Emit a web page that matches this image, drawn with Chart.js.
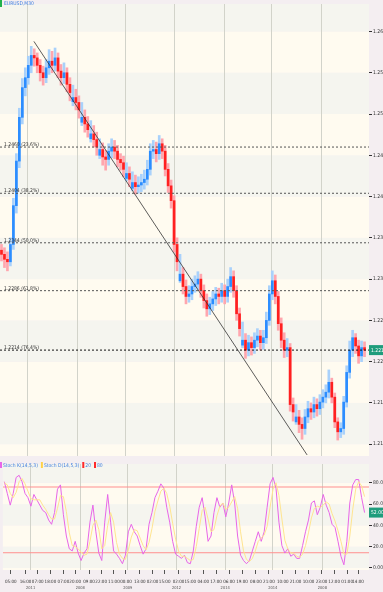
<!DOCTYPE html>
<html><head><meta charset="utf-8">
<script src="https://cdn.jsdelivr.net/npm/chart.js@4/dist/chart.umd.min.js"></script>
<style>
html,body{margin:0;padding:0;background:#f4eef1;overflow:hidden;width:383px;height:592px}
#w1{position:absolute;left:0;top:0;width:383px;height:460px}
#w2{position:absolute;left:0;top:460px;width:383px;height:132px}
</style></head><body>
<div id="w1"><canvas id="c1"></canvas></div>
<div id="w2"><canvas id="c2"></canvas></div>
<script>
// ---------- DATA ----------
const chartTitle = "EURUSD,M30";
const openP = [1.2335,1.2330,1.2324,1.2321,1.2342,1.2389,1.2443,1.2496,1.2532,1.2544,
1.2559,1.2571,1.2568,1.2559,1.2550,1.2544,1.2556,1.2564,1.2559,1.2568,
1.2552,1.2544,1.2550,1.2536,1.2515,1.2520,1.2514,1.2490,1.2496,1.2488,
1.2470,1.2476,1.2469,1.2450,1.2457,1.2448,1.2445,1.2455,1.2460,1.2455,
1.2445,1.2441,1.2422,1.2428,1.2410,1.2417,1.2412,1.2414,1.2417,1.2421,
1.2433,1.2455,1.2457,1.2452,1.2464,1.2455,1.2433,1.2413,1.2395,1.2342,
1.2298,1.2306,1.2291,1.2279,1.2282,1.2291,1.2294,1.2300,1.2286,1.2274,
1.2264,1.2270,1.2276,1.2282,1.2279,1.2286,1.2279,1.2291,1.2303,1.2286,
1.2258,1.2220,1.2226,1.2214,1.2223,1.2217,1.2226,1.2231,1.2223,1.2229,
1.2250,1.2282,1.2298,1.2279,1.2246,1.2226,1.2214,1.2217,1.2148,1.2127,
1.2133,1.2124,1.2119,1.2133,1.2143,1.2139,1.2148,1.2143,1.2151,1.2157,
1.2163,1.2175,1.2157,1.2127,1.2115,1.2119,1.2151,1.2187,1.2214,1.2229,
1.2219,1.2207,1.2217];
const highP = [1.2342,1.2338,1.2333,1.2350,1.2398,1.2452,1.2507,1.2543,1.2556,1.2570,
1.2582,1.2579,1.2574,1.2566,1.2558,1.2566,1.2578,1.2576,1.2580,1.2574,
1.2560,1.2562,1.2556,1.2544,1.2535,1.2530,1.2522,1.2514,1.2505,1.2497,
1.2492,1.2486,1.2478,1.2470,1.2465,1.2456,1.2464,1.2470,1.2468,1.2462,
1.2452,1.2449,1.2441,1.2436,1.2430,1.2426,1.2424,1.2427,1.2432,1.2444,
1.2464,1.2468,1.2466,1.2474,1.2470,1.2462,1.2440,1.2420,1.2401,1.2350,
1.2330,1.2314,1.2299,1.2292,1.2300,1.2304,1.2309,1.2306,1.2293,1.2282,
1.2278,1.2285,1.2290,1.2289,1.2295,1.2293,1.2300,1.2314,1.2310,1.2292,
1.2265,1.2248,1.2234,1.2232,1.2230,1.2235,1.2240,1.2238,1.2238,1.2260,
1.2292,1.2310,1.2305,1.2285,1.2253,1.2235,1.2228,1.2222,1.2156,1.2148,
1.2141,1.2132,1.2142,1.2152,1.2150,1.2157,1.2155,1.2160,1.2166,1.2172,
1.2190,1.2180,1.2162,1.2132,1.2126,1.2158,1.2195,1.2225,1.2238,1.2234,
1.2226,1.2225,1.2224];
const lowP = [1.2322,1.2314,1.2310,1.2316,1.2336,1.2380,1.2435,1.2488,1.2522,1.2536,
1.2550,1.2558,1.2550,1.2540,1.2535,1.2538,1.2548,1.2550,1.2552,1.2544,
1.2535,1.2537,1.2527,1.2516,1.2510,1.2505,1.2495,1.2486,1.2478,1.2472,
1.2466,1.2460,1.2450,1.2446,1.2438,1.2432,1.2438,1.2447,1.2446,1.2436,
1.2432,1.2424,1.2419,1.2412,1.2407,1.2403,1.2404,1.2406,1.2409,1.2414,
1.2426,1.2446,1.2442,1.2445,1.2446,1.2425,1.2405,1.2386,1.2333,1.2310,
1.2296,1.2282,1.2270,1.2272,1.2275,1.2284,1.2287,1.2278,1.2265,1.2255,
1.2257,1.2262,1.2268,1.2270,1.2272,1.2270,1.2272,1.2284,1.2278,1.2250,
1.2231,1.2217,1.2204,1.2207,1.2208,1.2210,1.2218,1.2214,1.2215,1.2222,
1.2244,1.2275,1.2270,1.2238,1.2217,1.2205,1.2206,1.2140,1.2128,1.2124,
1.2114,1.2106,1.2112,1.2126,1.2130,1.2132,1.2134,1.2136,1.2144,1.2150,
1.2156,1.2150,1.2120,1.2105,1.2108,1.2112,1.2145,1.2180,1.2206,1.2210,
1.2198,1.2200,1.2206];
const closeP = [1.2330,1.2324,1.2321,1.2342,1.2389,1.2443,1.2496,1.2532,1.2544,1.2559,
1.2571,1.2568,1.2559,1.2550,1.2544,1.2556,1.2564,1.2559,1.2568,1.2552,
1.2544,1.2550,1.2536,1.2526,1.2520,1.2514,1.2505,1.2496,1.2488,1.2481,
1.2476,1.2469,1.2460,1.2457,1.2448,1.2445,1.2455,1.2460,1.2455,1.2445,
1.2441,1.2433,1.2428,1.2421,1.2417,1.2412,1.2414,1.2417,1.2421,1.2433,
1.2455,1.2457,1.2452,1.2464,1.2455,1.2433,1.2413,1.2395,1.2342,1.2321,
1.2306,1.2291,1.2279,1.2282,1.2291,1.2294,1.2300,1.2286,1.2274,1.2264,
1.2270,1.2276,1.2282,1.2279,1.2286,1.2279,1.2291,1.2303,1.2286,1.2258,
1.2240,1.2226,1.2214,1.2223,1.2217,1.2226,1.2231,1.2223,1.2229,1.2250,
1.2282,1.2298,1.2279,1.2246,1.2226,1.2214,1.2217,1.2148,1.2139,1.2133,
1.2124,1.2119,1.2133,1.2143,1.2139,1.2148,1.2143,1.2151,1.2157,1.2163,
1.2175,1.2157,1.2127,1.2115,1.2119,1.2151,1.2187,1.2214,1.2229,1.2219,
1.2207,1.2217,1.2214];
const stochK = [81,70,59,70,85,87,81,70,66,58,69,64,59,54,52,45,41,52,74,78,
50,30,18,16,25,14,7,14,18,43,59,34,14,7,43,69,43,16,13,9,
4,12,34,41,34,30,21,13,18,41,52,66,72,79,75,57,43,25,13,11,
9,12,5,4,16,39,57,66,48,25,30,52,66,57,61,48,61,78,61,30,
12,7,4,7,16,25,34,25,34,57,79,85,75,43,21,14,18,11,13,9,
9,21,34,45,61,63,50,57,69,59,52,41,38,25,11,3,25,61,78,83,
83,66,52];
const stochD = [80,78,70,66,71,81,84,79,72,65,64,64,64,59,55,50,46,46,56,68,
67,53,33,21,20,18,15,12,13,25,40,45,36,18,21,40,52,43,24,13,
9,8,17,29,36,35,28,21,17,24,37,53,63,72,75,70,58,42,27,16,
11,11,9,7,8,20,37,54,57,46,34,36,49,58,61,55,57,62,67,56,
34,16,8,6,9,16,25,28,31,39,57,74,80,68,46,26,18,14,14,11,
10,13,21,33,47,56,58,57,59,62,60,51,44,35,25,13,13,30,55,74,
81,77,67];
const priceTicks = [1.2100,1.2150,1.2200,1.2250,1.2300,1.2350,1.2400,1.2450,1.2500,1.2550,1.2600];
const stochTicks = [0,20,40,60,80];
const stochLevels = [76,14.3];
const fibLevels = [1.2460,1.2404,1.2344,1.2286,1.2214];
const fibPct = ["23.6%","38.2%","50.0%","61.8%","76.4%"];
const trendStart = {i:10.9, p:1.2588};
const trendEnd = {i:102.7, p:1.2087};
const timeLabels = ["05:00","16:00","07:00","18:00","07:00","20:00","09:00","22:00","11:00","00:00",
"13:00","02:00","15:00","02:00","15:00","04:00","17:00","06:00","19:00",
"08:00","21:00","10:00","21:00","10:00","23:00","12:00","01:00","14:00"];
const timeLabelAt = [2.2,7.2,11.3,15.6,20.0,24.0,28.7,32.8,37.1,41.2,
45.9,50.2,54.3,59.0,63.0,67.4,71.7,76.1,80.5,
85.2,89.6,94.3,98.6,103.0,107.4,111.7,116.1,119.8];
const daySeparators = [8.9,25.7,41.8,58.3,74.8,90.9,107.7];
const dayLabels = ["2011","2008","2009","2012","2014","2014","2008"];
const legendItems = [["Stoch K(14,5,3)","#e866e8"],["Stoch D(14,5,3)","#ffd24a"],["20","#ff2a2a"],["80","#ff2a2a"]];

// ---------- STYLE ----------
const X_MIN = -0.5, X_MAX = 123.5;
const FONT = '"Liberation Sans Narrow","DejaVu Sans Condensed","Liberation Sans",sans-serif';
const BAND_A = '#f5f5ef', BAND_B = '#fffbf0';
const UP = '#2c8dff', DN = '#ff2020', UPW = '#a9d1fb', DNW = '#ffa6ae';
const SEP = '#d2d3ca';

function bandPlugin(id){
  return {id, beforeDraw(chart){
    const {ctx, chartArea:a} = chart; const ys = chart.scales.y;
    const tv = ys.ticks.map(t=>t.value).sort((p,q)=>p-q);
    const edges = [ys.min, ...tv, ys.max];
    ctx.save();
    for(let k=0;k<edges.length-1;k++){
      const y1 = ys.getPixelForValue(edges[k]), y2 = ys.getPixelForValue(edges[k+1]);
      ctx.fillStyle = ((k-1)%2===0) ? BAND_A : BAND_B;
      ctx.fillRect(a.left, Math.min(y1,y2), a.right-a.left, Math.abs(y2-y1));
    }
    ctx.restore();
  }};
}
function boxPlugin(id, getVal, fmt){
  return {id, afterDraw(chart){
    const {ctx, chartArea:a} = chart; const ys = chart.scales.y;
    const v = getVal(); const y = ys.getPixelForValue(v);
    ctx.save();
    ctx.fillStyle = '#1f9c7c';
    ctx.fillRect(a.right, y-5, chart.width-a.right, 10);
    ctx.fillStyle = '#ffffff'; ctx.font = '5px '+FONT; ctx.textBaseline='middle';
    ctx.fillText(fmt(v), a.right+2, y+0.5);
    ctx.restore();
  }};
}

const idx = closeP.map((_,i)=>i);

// ---------- MAIN PRICE CHART ----------
new Chart(document.getElementById('c1'), {
  type:'bar',
  data:{datasets:[
    {label:'wick', order:3, data: idx.map(i=>({x:i, y:[lowP[i],highP[i]]})),
     backgroundColor: idx.map(i=> closeP[i]>=openP[i]?UPW:DNW), barThickness:2, grouped:false, borderWidth:0},
    {label:'body', order:2, data: idx.map(i=>({x:i, y:[openP[i],closeP[i]]})),
     backgroundColor: idx.map(i=> closeP[i]>=openP[i]?UP:DN), barThickness:2, grouped:false, borderWidth:0, minBarLength:1},
    {type:'line', label:'trend', order:1, data:[{x:trendStart.i,y:trendStart.p},{x:trendEnd.i,y:trendEnd.p}],
     borderColor:'#333', borderWidth:0.8, pointRadius:0},
    ...fibLevels.map((v,k)=>({type:'line', label:'fib'+k, order:1,
      data:[{x:X_MIN,y:v},{x:X_MAX,y:v}], borderColor: k===fibLevels.length-1?'#111':'#555',
      borderWidth:1, borderDash:[2,2], pointRadius:0}))
  ]},
  options:{
    responsive:true, maintainAspectRatio:false, animation:false,
    layout:{padding:0},
    plugins:{legend:{display:false}, tooltip:{enabled:false}},
    scales:{
      x:{type:'linear', min:X_MIN, max:X_MAX, offset:false,
         grid:{color:SEP, lineWidth:1, drawTicks:false, offset:false},
         border:{display:false}, ticks:{display:false},
         afterBuildTicks:s=>{s.ticks = daySeparators.map(v=>({value:v}));},
         afterFit:s=>{s.height=0;}},
      y:{position:'right', min:1.20857, max:1.26333,
         afterBuildTicks:s=>{s.ticks = priceTicks.map(v=>({value:v}));},
         afterFit:s=>{s.width=14;},
         grid:{drawOnChartArea:false, tickLength:3, color:'#333'},
         border:{display:false},
         ticks:{font:{size:5, family:FONT}, color:'#333', padding:1, callback:v=>v.toFixed(4)}}
    }
  },
  plugins:[bandPlugin('bands1'), boxPlugin('box1', ()=>closeP[closeP.length-1], v=>v.toFixed(4)),
    {id:'texts1', afterDatasetsDraw(chart){
      const {ctx, chartArea:a} = chart; const ys = chart.scales.y;
      ctx.save();
      ctx.font = '5px '+FONT; ctx.fillStyle='#333'; ctx.textBaseline='alphabetic';
      fibLevels.forEach((v,k)=>{
        const y = ys.getPixelForValue(v);
        ctx.fillText(v.toFixed(4)+' ('+fibPct[k]+')', a.left+4, y-1);
      });
      ctx.fillStyle='#22b14c'; ctx.fillRect(0,0,2,7);
      ctx.fillStyle='#3f7fe0'; ctx.textBaseline='top'; ctx.font='5px '+FONT;
      ctx.fillText(chartTitle, 4, 1);
      ctx.restore();
    }}]
});

// ---------- STOCHASTIC CHART ----------
new Chart(document.getElementById('c2'), {
  type:'line',
  data:{datasets:[
    {label:'D', data: idx.map(i=>({x:i,y:stochD[i]})), borderColor:'#ffe590', borderWidth:1, pointRadius:0, tension:0},
    {label:'K', data: idx.map(i=>({x:i,y:stochK[i]})), borderColor:'#e866e8', borderWidth:1, pointRadius:0, tension:0},
    ...stochLevels.map((v,k)=>({label:'lvl'+k, data:[{x:X_MIN,y:v},{x:X_MAX,y:v}], borderColor:'#ff8f8f', borderWidth:1, pointRadius:0}))
  ]},
  options:{
    responsive:true, maintainAspectRatio:false, animation:false,
    layout:{padding:0},
    plugins:{legend:{display:false}, tooltip:{enabled:false}},
    scales:{
      x:{type:'linear', min:X_MIN, max:X_MAX, offset:false, weight:0,
         grid:{drawOnChartArea:false, tickLength:4, color:'#555', offset:false},
         border:{display:false},
         afterBuildTicks:s=>{s.ticks = timeLabelAt.map(v=>({value:v}));},
         afterFit:s=>{s.height=16;},
         ticks:{autoSkip:false, maxRotation:0, minRotation:0, padding:5, font:{size:4.5,family:FONT}, color:'#333',
           callback:(v,i)=>timeLabels[i]}},
      x2:{type:'linear', position:'bottom', min:X_MIN, max:X_MAX, offset:false, weight:1,
         grid:{drawOnChartArea:true, drawTicks:false, color:SEP, offset:false},
         border:{display:false},
         afterBuildTicks:s=>{s.ticks = daySeparators.map(v=>({value:v}));},
         afterFit:s=>{s.height=6;},
         ticks:{autoSkip:false, maxRotation:0, minRotation:0, padding:0, font:{size:4,family:FONT}, color:'#555',
           callback:(v,i)=>dayLabels[i]}},
      y:{position:'right', min:-1.9, max:97.6,
         afterBuildTicks:s=>{s.ticks = stochTicks.map(v=>({value:v}));},
         afterFit:s=>{s.width=14;},
         grid:{drawOnChartArea:false, tickLength:3, color:'#333'},
         border:{display:false},
         ticks:{font:{size:5,family:FONT}, color:'#333', padding:1, callback:v=> v===0?'0.0000':v.toFixed(2)}}
    }
  },
  plugins:[bandPlugin('bands2'), boxPlugin('box2', ()=>stochK[stochK.length-1], v=>v.toFixed(2)),
    {id:'legend2', afterDraw(chart){
      const ctx = chart.ctx; ctx.save();
      ctx.font='5px '+FONT; ctx.textBaseline='top';
      let x = 0;
      legendItems.forEach(([t,c])=>{
        ctx.fillStyle=c; ctx.fillRect(x,2,2,6);
        ctx.fillStyle='#3f7fe0'; ctx.fillText(t, x+3, 3);
        x += 3 + ctx.measureText(t).width + 3;
      });
      ctx.restore();
    }}]
});
</script>
</body></html>
